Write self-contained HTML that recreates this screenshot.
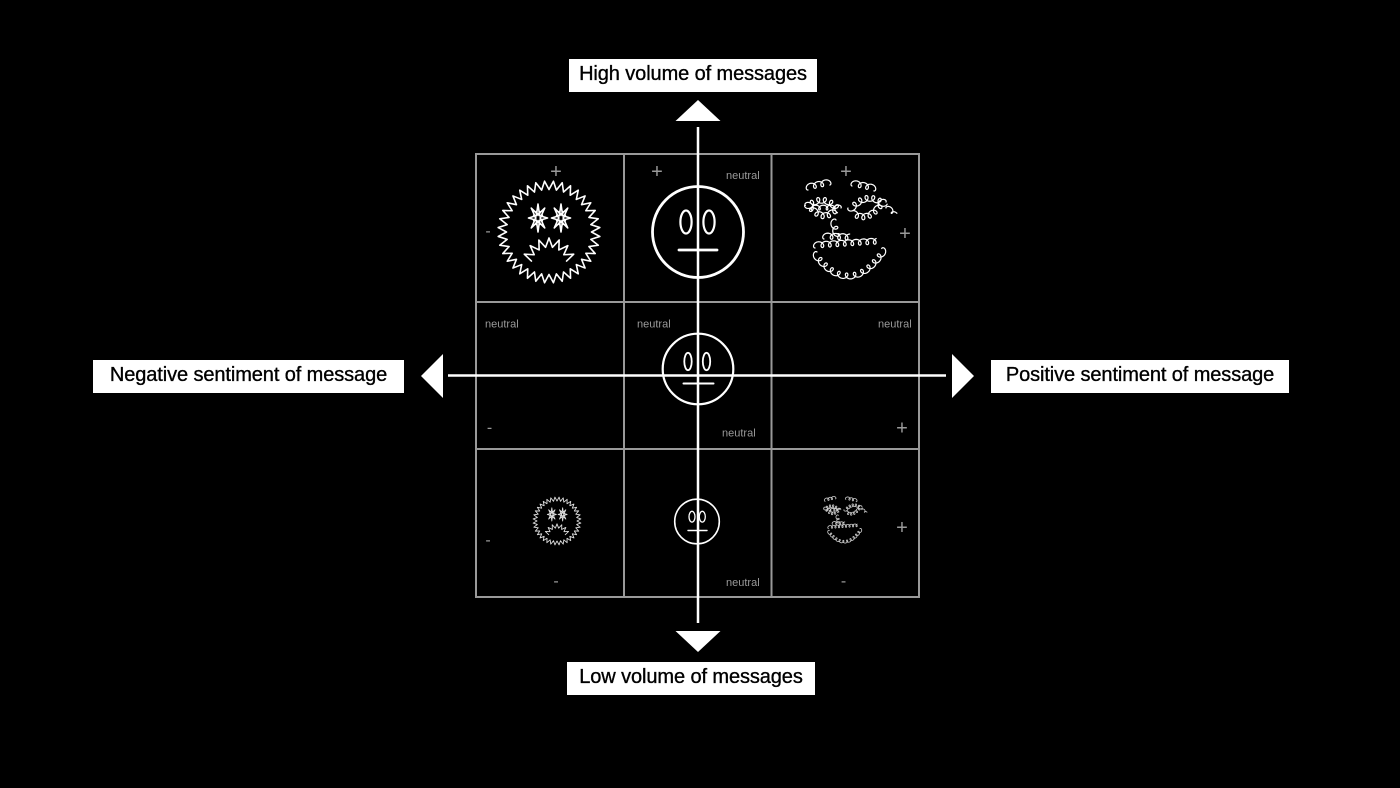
<!DOCTYPE html>
<html>
<head>
<meta charset="utf-8">
<style>
  html,body{margin:0;padding:0;background:#000;}
  body{width:1400px;height:788px;position:relative;overflow:hidden;font-family:"Liberation Sans",Arial,sans-serif;}
  .lbl{position:absolute;background:#fff;color:#000;font-size:20px;height:33px;line-height:30px;text-align:center;white-space:nowrap;letter-spacing:-0.1px;-webkit-text-stroke:0.35px #000;}
  svg{position:absolute;left:0;top:0;}
  .g{fill:#9a9a9a;font-family:"Liberation Sans",Arial,sans-serif;}
</style>
</head>
<body>
<svg width="1400" height="788" viewBox="0 0 1400 788">
  <!-- grid -->
  <g stroke="#999" stroke-width="2" fill="none">
    <rect x="476" y="154" width="443" height="443"/>
    <line x1="624" y1="154" x2="624" y2="597"/>
    <line x1="771.5" y1="154" x2="771.5" y2="597"/>
    <line x1="476" y1="302" x2="919" y2="302"/>
    <line x1="476" y1="449" x2="919" y2="449"/>
  </g>

  <!-- gray labels -->
  <g class="g" font-size="11">
    <text x="726" y="179">neutral</text>
    <text x="485" y="327.5">neutral</text>
    <text x="637" y="327.5">neutral</text>
    <text x="878" y="327.5">neutral</text>
    <text x="722" y="436.5">neutral</text>
    <text x="726" y="586">neutral</text>
  </g>
  <g class="g" font-size="20" text-anchor="middle">
    <text x="556" y="178">+</text>
    <text x="657" y="178">+</text>
    <text x="846" y="178">+</text>
    <text x="905" y="240">+</text>
    <text x="902" y="434.5">+</text>
    <text x="902" y="534">+</text>
  </g>
  <g class="g" font-size="16" text-anchor="middle">
    <text x="488" y="236">-</text>
    <text x="489.5" y="432.5">-</text>
    <text x="488" y="545">-</text>
    <text x="556" y="586">-</text>
    <text x="843.5" y="586">-</text>
  </g>

  <!-- faces -->
  <g fill="none" stroke="#fff" stroke-linejoin="round" stroke-linecap="round">
    <g transform="translate(549,232)"><path id="f1" stroke-width="1.6"/></g>
    <g transform="translate(557,521) scale(0.47)"><path id="f2" stroke="#ddd" stroke-width="1.9"/></g>
    <g transform="translate(848,232)"><path id="f3" stroke-width="1.2"/></g>
    <g transform="translate(844,521) scale(0.47)"><path id="f4" stroke="#ccc" stroke-width="1.7"/></g>

    <!-- neutral faces -->
    <circle cx="698" cy="232" r="45.5" stroke-width="2.8"/>
    <ellipse cx="686" cy="222" rx="5.6" ry="11.5" stroke-width="2.2"/>
    <ellipse cx="709" cy="222" rx="5.6" ry="11.5" stroke-width="2.2"/>
    <line x1="679" y1="250" x2="717" y2="250" stroke-width="2.8"/>

    <circle cx="698" cy="369" r="35.3" stroke-width="2.2"/>
    <ellipse cx="688" cy="361.5" rx="3.7" ry="8.7" stroke-width="1.8"/>
    <ellipse cx="706.5" cy="361.5" rx="3.7" ry="8.7" stroke-width="1.8"/>
    <line x1="683.5" y1="383.5" x2="713.5" y2="383.5" stroke-width="2"/>

    <circle cx="697" cy="521.5" r="22.3" stroke-width="1.6"/>
    <ellipse cx="692" cy="516.7" rx="3" ry="5.4" stroke-width="1.3"/>
    <ellipse cx="702.3" cy="516.7" rx="3" ry="5.4" stroke-width="1.3"/>
    <line x1="688" y1="530.5" x2="707" y2="530.5" stroke-width="1.4"/>
  </g>

  <!-- axes -->
  <g stroke="#fff">
    <line x1="698" y1="127" x2="698" y2="623" stroke-width="2.5"/>
    <line x1="448" y1="375.5" x2="946" y2="375.5" stroke-width="2.5"/>
  </g>
  <g fill="#fff">
    <polygon points="698,100 675.5,121 720.5,121"/>
    <polygon points="675.5,631 720.5,631 698,652"/>
    <polygon points="421,376 443,354 443,398"/>
    <polygon points="952,354 974,376 952,398"/>
  </g>
</svg>

<div class="lbl" style="left:569px;top:59px;width:248px;">High volume of messages</div>
<div class="lbl" style="left:567px;top:662px;width:248px;">Low volume of messages</div>
<div class="lbl" style="left:93px;top:360px;width:311px;">Negative sentiment of message</div>
<div class="lbl" style="left:991px;top:360px;width:298px;">Positive sentiment of message</div>

<script>
(function(){
  function f(n){return n.toFixed(2);}
  function P(pts,close){return 'M'+pts.map(function(p){return f(p[0])+' '+f(p[1]);}).join('L')+(close?'Z':'');}
  function ring(r1,r2,n){var pts=[];for(var i=0;i<2*n;i++){var a=i*Math.PI/n;var r=i%2?r2:r1;pts.push([r*Math.cos(a),r*Math.sin(a)]);}return P(pts,true);}
  function star(cx,cy,r1,r2,n,rot,sx,sy){var pts=[];for(var i=0;i<2*n;i++){var a=rot+i*Math.PI/n;var r=i%2?r2:r1;pts.push([cx+sx*r*Math.cos(a),cy+sy*r*Math.sin(a)]);}return P(pts,true);}
  function arcZ(cx,cy,r1,r2,a0,a1,n){var pts=[];for(var i=0;i<=2*n;i++){var a=a0+(a1-a0)*i/(2*n);var r=i%2?r2:r1;pts.push([cx+r*Math.cos(a),cy+r*Math.sin(a)]);}return P(pts,false);}

  var spiky = ring(42.5,51,36)
    + star(-11,-14,14,5,8,-Math.PI/2,0.68,1)
    + star(-11,-14,7,3,8,-Math.PI/2+0.4,0.68,1)
    + star(12,-14,14,5,8,-Math.PI/2,0.68,1)
    + star(12,-14,7,3,8,-Math.PI/2+0.4,0.68,1)
    + arcZ(0,33,18,27,Math.PI+0.22,2*Math.PI-0.22,7);
  document.getElementById('f1').setAttribute('d',spiky);
  document.getElementById('f2').setAttribute('d',spiky);

  function sample(fn,N){var a=[];for(var i=0;i<=N;i++)a.push(fn(i/N));return a;}
  function quad(p0,c,p1){return function(t){var u=1-t;return [u*u*p0[0]+2*u*t*c[0]+t*t*p1[0],u*u*p0[1]+2*u*t*c[1]+t*t*p1[1]];};}
  function lin(p0,p1){return function(t){return [p0[0]+(p1[0]-p0[0])*t,p0[1]+(p1[1]-p0[1])*t];};}
  function loopy(base,sp,b,side){
    var L=[0],i;
    for(i=1;i<base.length;i++){L.push(L[i-1]+Math.hypot(base[i][0]-base[i-1][0],base[i][1]-base[i-1][1]));}
    var total=L[L.length-1];
    var steps=Math.ceil(total/sp*24);
    var out=[],seg=1;
    for(var k=0;k<=steps;k++){
      var s=total*k/steps;
      while(seg<base.length-1&&L[seg]<s)seg++;
      var a=base[seg-1],c=base[seg];
      var sl=L[seg]-L[seg-1]||1;
      var t=(s-L[seg-1])/sl;
      var px=a[0]+(c[0]-a[0])*t,py=a[1]+(c[1]-a[1])*t;
      var tx=(c[0]-a[0])/sl,ty=(c[1]-a[1])/sl;
      var nx=-ty*side,ny=tx*side;
      var th=2*Math.PI*s/sp;
      var dx=-b*Math.sin(th),dy=b*(1-Math.cos(th));
      out.push([px+tx*dx+nx*dy,py+ty*dx+ny*dy]);
    }
    return P(out,false);
  }
  var sp=7.5,b=3.0;
  var curly =
      loopy(sample(lin([-40,-42],[-18,-47]),20),sp,b,-1)
    + loopy(sample(lin([4,-46],[26,-41]),20),sp,b,-1)
    + loopy(sample(quad([-43,-27],[-25,-44],[-7,-24]),30),sp,b,1)
    + loopy(sample(quad([-7,-24],[-25,-1],[-43,-27]),30),sp,b,1)
    + loopy(sample(lin([-36,-22],[-15,-22]),20),sp,2.4,-1)
    + loopy(sample(quad([0,-24],[18,-46],[38,-30]),30),sp,b,1)
    + loopy(sample(quad([38,-30],[22,-4],[4,-16]),30),sp,b,1)
    + loopy(sample(lin([38,-24],[46,-16]),10),sp,2,-1)
    + loopy(sample(lin([-12,-12],[-8,4]),12),sp,b,1)
    + loopy(sample(lin([-24,7],[2,8]),20),sp,b,-1)
    + loopy(sample(lin([-33,16],[30,12]),30),sp,b,-1)
    + loopy(sample(quad([-31,20],[2,64],[34,16]),40),sp,b,1);
  document.getElementById('f3').setAttribute('d',curly);
  document.getElementById('f4').setAttribute('d',curly);
})();
</script>
</body>
</html>
